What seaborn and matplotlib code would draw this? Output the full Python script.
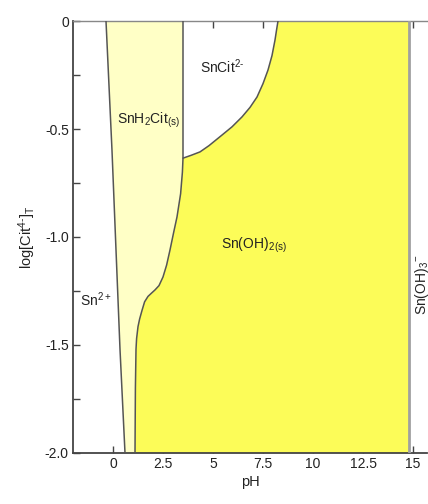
import numpy as np
import matplotlib
matplotlib.use("Agg")
import matplotlib.pyplot as plt
import seaborn as sns

# ---- data (pH, log[Cit]T) ----
# boundary Sn2+ / SnH2Cit(s)
a_ph = [-0.35, -0.05, 0.35, 0.60]
a_log = [0.0, -0.60, -1.52, -2.0]
# boundary SnH2Cit(s) / Sn(OH)2(s)
b_ph = [3.50, 3.50, 3.47, 3.38, 3.20, 3.03, 2.85, 2.68, 2.50, 2.30, 2.10, 1.90,
        1.75, 1.58, 1.45, 1.33, 1.25, 1.18, 1.15, 1.12, 1.10]
b_log = [0.0, -0.635, -0.70, -0.80, -0.907, -0.98, -1.06, -1.13, -1.185, -1.225, -1.245, -1.262,
         -1.275, -1.30, -1.34, -1.38, -1.415, -1.47, -1.52, -1.70, -2.0]
# boundary SnCit2- / Sn(OH)2(s)
c_ph = [3.50, 3.90, 4.35, 4.80, 5.45, 5.95, 6.45, 6.85, 7.20, 7.50, 7.75, 7.95, 8.10, 8.18, 8.25]
c_log = [-0.635, -0.622, -0.606, -0.577, -0.528, -0.49, -0.444, -0.40, -0.352, -0.29,
         -0.227, -0.16, -0.088, -0.04, 0.0]
# boundary Sn(OH)2(s) / Sn(OH)3-
d_ph = [14.8, 14.8]
d_log = [0.0, -2.0]

x_ticks = [0, 2.5, 5, 7.5, 10, 12.5, 15]
x_labels = ["0", "2.5", "5", "7.5", "10", "12.5", "15"]
y_ticks = [0, -0.5, -1.0, -1.5, -2.0]
y_labels = ["0", "-0.5", "-1.0", "-1.5", "-2.0"]
y_minor = [-0.25, -0.75, -1.25, -1.75]

labels = [
    (r"SnCit$^{2\text{-}}$", 5.45, -0.213),
    (r"SnH$_2$Cit$_{(s)}$", 1.75, -0.458),
    (r"Sn(OH)$_2$$_{(s)}$", 7.05, -1.04),
    (r"Sn$^{2+}$", -0.85, -1.29),
]

sns.set_theme(style="white")
plt.rcParams["font.family"] = ["Liberation Sans", "DejaVu Sans"]
plt.rcParams["mathtext.fontset"] = "custom"
plt.rcParams["mathtext.rm"] = "Liberation Sans"
plt.rcParams["mathtext.it"] = "Liberation Sans"
plt.rcParams["mathtext.bf"] = "Liberation Sans:bold"

fig = plt.figure(figsize=(4.28, 5.04), dpi=100)
ax = fig.add_axes([73 / 428, 1 - 453 / 504, (427 - 73) / 428, (453 - 21) / 504])

pale = "#FFFFC6"
yellow = "#FCFC58"
line_c = "#555555"

# pale region between boundary A and B
poly_x = list(a_ph) + list(b_ph[::-1])
poly_y = list(a_log) + list(b_log[::-1])
ax.fill(poly_x, poly_y, color=pale, lw=0, zorder=1)

# yellow region: left bounded by lower part of B then C, right by D
lower_b_ph = [p for p, l in zip(b_ph, b_log) if l < -0.635]
lower_b_log = [l for l in b_log if l < -0.635]
yx = lower_b_ph[::-1] + list(c_ph) + [d_ph[0], d_ph[1]]
yy = lower_b_log[::-1] + list(c_log) + [d_log[0], d_log[1]]
ax.fill(yx, yy, color=yellow, lw=0, zorder=1)

for xs, ys, col, lw in [(a_ph, a_log, line_c, 1.1), (b_ph, b_log, line_c, 1.1),
                        (c_ph, c_log, line_c, 1.1), (d_ph, d_log, "#A0A0A0", 2.0)]:
    sns.lineplot(x=xs, y=ys, sort=False, estimator=None, ax=ax, color=col, lw=lw, zorder=3)

for txt, x, y in labels:
    ax.text(x, y, txt, ha="center", va="center", fontsize=10, color="#222222", zorder=4)

ax.text(15.45, -1.36, r"Sn(OH)$_3$$^{-}$", rotation=90, ha="center", va="bottom",
        fontsize=10, color="#222222", zorder=4, clip_on=False)

ax.set_xlim(-2, 15.7)
ax.set_ylim(-2.0, 0.0)
ax.set_xticks(x_ticks)
ax.set_xticklabels(x_labels)
ax.set_yticks(y_ticks)
ax.set_yticklabels(y_labels)
ax.set_yticks(y_minor, minor=True)
ax.tick_params(axis="both", which="both", direction="in", length=5, width=1,
               color="#444444", labelsize=10, labelcolor="#222222", top=True, right=False,
               bottom=True, left=True, pad=3)
ax.tick_params(axis="y", which="minor", length=5)
ax.set_xlabel("pH", fontsize=10.5, color="#222222", labelpad=3)
ax.set_ylabel(r"log[Cit$^{4\text{-}}$]$_{\mathrm{T}}$", fontsize=10.5, color="#222222", labelpad=5)

ax.spines["right"].set_visible(False)
for s in ["left", "bottom"]:
    ax.spines[s].set_color("#444444")
    ax.spines[s].set_linewidth(1.3)
ax.spines["top"].set_color("#888888")
ax.spines["top"].set_linewidth(1.0)
ax.set_facecolor("white")
if ax.get_legend():
    ax.get_legend().remove()

fig.savefig("out.png", dpi=100)
